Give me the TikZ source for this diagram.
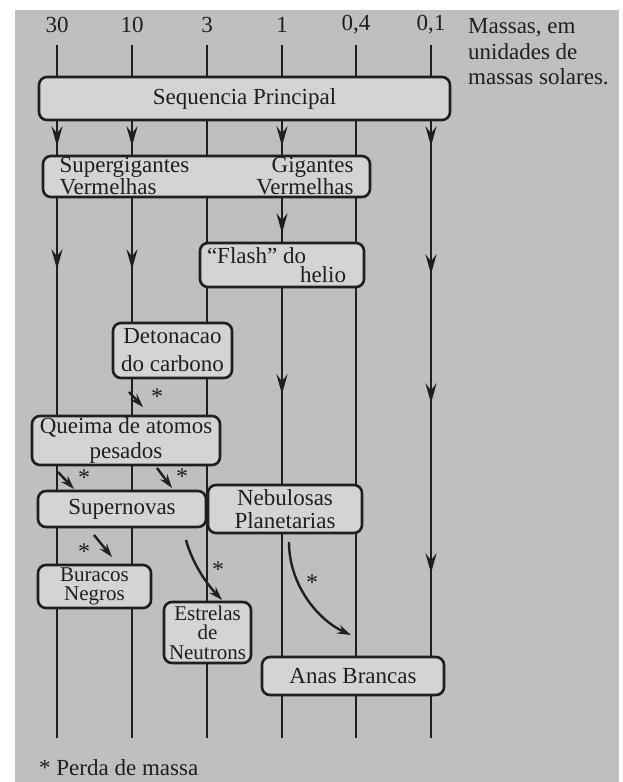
\documentclass[tikz,border=0pt]{standalone}
\usepackage{fontspec}
\setmainfont{Liberation Serif}
\usetikzlibrary{arrows.meta,decorations.markings,positioning}
\pgfdeclarelayer{bg}
\pgfsetlayers{bg,main}
\definecolor{paper}{gray}{0.75}
\definecolor{boxfill}{gray}{0.83}
\definecolor{ink}{gray}{0.12}
\newcommand{\fsz}[1]{\fontsize{23}{#1}\selectfont}
\tikzset{
  flowtip/.tip={Stealth[length=20pt, width=11pt, inset=7pt]},
  box/.style={draw=ink, line width=2.6pt, rounded corners=8pt, fill=boxfill,
    inner sep=0pt, text=ink, align=center},
  ln/.style={draw=ink, line width=2.6pt},
  midarrow/.style={postaction={decorate, decoration={markings,
    mark=at position #1 with {\arrow{flowtip}}}}},
  loss/.style={draw=ink, line width=2.4pt, -{Stealth[length=14pt, width=9pt, inset=5pt]}},
  star/.style={text=ink, font=\fontsize{24}{24}\selectfont, inner sep=0pt},
  lbl/.style={text=ink, font=\fsz{25}, inner sep=0pt}
}
\begin{document}
\begin{tikzpicture}[x=1pt, y=-1pt]
\useasboundingbox (0,0) rectangle (622,782);

% masses
\foreach \n/\x/\t in {30/57/30, 10/132/10, 3/207/3, 1/282/1, 04/356/{0,4}, 01/431/{0,1}} {
  \node[lbl] (m\n) at (\x,25) {\t};
  \coordinate (t\n) at (\x,45);
  \coordinate (e\n) at (\x,738);
}
\node[lbl, anchor=west, align=left, font=\fsz{25.5}] (unit) at (468,52) {Massas, em\\unidades de\\massas solares.};

% stages
\node[box, minimum width=411pt, minimum height=43pt] (sp) at (244.5,98.5) {\fsz{25}Sequencia Principal};
\node[box, minimum width=327pt, minimum height=41pt, font=\fsz{19.5}] (rg) at (206.5,176.5)
  {\makebox[294pt]{Supergigantes\hfill Gigantes}\\\makebox[294pt]{Vermelhas\hfill Vermelhas}};
\node[box, minimum width=164pt, minimum height=44pt, font=\fsz{18.5}] (fl) at (282,265)
  {\makebox[150pt]{“Flash” do\hfill}\\\makebox[150pt]{\hfill helio\hspace*{11pt}}};
\node[box, minimum width=119pt, minimum height=55pt, font=\fsz{28}] (dc) at (172.5,350.5) {Detonacao\\do carbono};
\node[box, minimum width=188pt, minimum height=49pt, font=\fsz{25}] (qa) at (126,440.5) {Queima de atomos\\pesados};
\node[box, minimum width=168pt, minimum height=36pt, font=\fsz{25}] (sn) at (122,509) {Supernovas};
\node[box, minimum width=154pt, minimum height=48pt, font=\fsz{23}] (np) at (285,509) {Nebulosas\\Planetarias};
\node[box, minimum width=113pt, minimum height=43pt, font=\fontsize{21}{19.5}\selectfont] (bn) at (94.5,586.5) {Buracos\\Negros};
\node[box, minimum width=87pt, minimum height=61pt, font=\fontsize{21}{19.5}\selectfont] (en) at (207.5,632.5) {Estrelas\\de\\Neutrons};
\node[box, minimum width=182pt, minimum height=38pt, font=\fsz{25}] (ab) at (353,676) {Anas Brancas};

\node[lbl, anchor=west] (note) at (39,768) {* Perda de massa};

% mass loss
\coordinate (d1a) at (129,392); \coordinate (d1b) at (143,407);
\coordinate (d2a) at (58,472);  \coordinate (d2b) at (74,489);
\coordinate (d3a) at (157,468); \coordinate (d3b) at (172,488);
\coordinate (d4a) at (94,535);  \coordinate (d4b) at (112,557);
\coordinate (c1a) at (186,540); \coordinate (c1b) at (222,600);
\coordinate (c2a) at (289,542); \coordinate (c2b) at (351,635);
\draw[loss] (d1a) -- (d1b);
\draw[loss] (d2a) -- (d2b);
\draw[loss] (d3a) -- (d3b);
\draw[loss] (d4a) -- (d4b);
\draw[loss] (c1a) .. controls (192,562) and (205,582) .. (c1b);
\draw[loss] (c2a) .. controls (289,585) and (318,620) .. (c2b);
\node[star] (s1) at (157,397) {*};
\node[star] (s2) at (84,478) {*};
\node[star] (s3) at (182,477) {*};
\node[star] (s4) at (84,552) {*};
\node[star] (s5) at (218,570) {*};
\node[star] (s6) at (312,583) {*};

\begin{pgfonlayer}{bg}
\fill[paper] (15,10) rectangle (619,782);
\foreach \n in {30,10,3,1,04,01} \draw[ln] (t\n) -- (t\n |- sp.north);
% 30
\draw[ln, midarrow=25pt] (sp.south -| t30) -- (rg.north -| t30);
\draw[ln, midarrow=71pt] (rg.south -| t30) -- (qa.north -| t30);
\draw[ln] (qa.south -| t30) -- (sn.north -| t30);
\draw[ln] (sn.south -| t30) -- (bn.north -| t30);
\draw[ln] (bn.south -| t30) -- (e30);
% 10
\draw[ln, midarrow=25pt] (sp.south -| t10) -- (rg.north -| t10);
\draw[ln, midarrow=71pt] (rg.south -| t10) -- (dc.north -| t10);
\draw[ln] (dc.south -| t10) -- (qa.north -| t10);
\draw[ln] (qa.south -| t10) -- (sn.north -| t10);
\draw[ln] (sn.south -| t10) -- (bn.north -| t10);
\draw[ln] (bn.south -| t10) -- (e10);
% 3
\draw[ln] (sp.south -| t3) -- (rg.north -| t3);
\draw[ln] (rg.south -| t3) -- (dc.north -| t3);
\draw[ln] (dc.south -| t3) -- (qa.north -| t3);
\draw[ln] (qa.south -| t3) -- (en.north -| t3);
\draw[ln] (en.south -| t3) -- (e3);
% 1
\draw[ln, midarrow=25pt] (sp.south -| t1) -- (rg.north -| t1);
\draw[ln, midarrow=35pt] (rg.south -| t1) -- (fl.north -| t1);
\draw[ln, midarrow=106pt] (fl.south -| t1) -- (np.north -| t1);
\draw[ln] (np.south -| t1) -- (ab.north -| t1);
\draw[ln] (ab.south -| t1) -- (e1);
% 0,4
\draw[ln] (sp.south -| t04) -- (rg.north -| t04);
\draw[ln] (rg.south -| t04) -- (fl.north -| t04);
\draw[ln] (fl.south -| t04) -- (ab.north -| t04);
\draw[ln] (ab.south -| t04) -- (e04);
% 0,1
\draw[ln, midarrow=25pt, midarrow=153pt, midarrow=282pt, midarrow=452pt] (sp.south -| t01) -- (ab.north -| t01);
\draw[ln] (ab.south -| t01) -- (e01);
\end{pgfonlayer}
\end{tikzpicture}
\end{document}
